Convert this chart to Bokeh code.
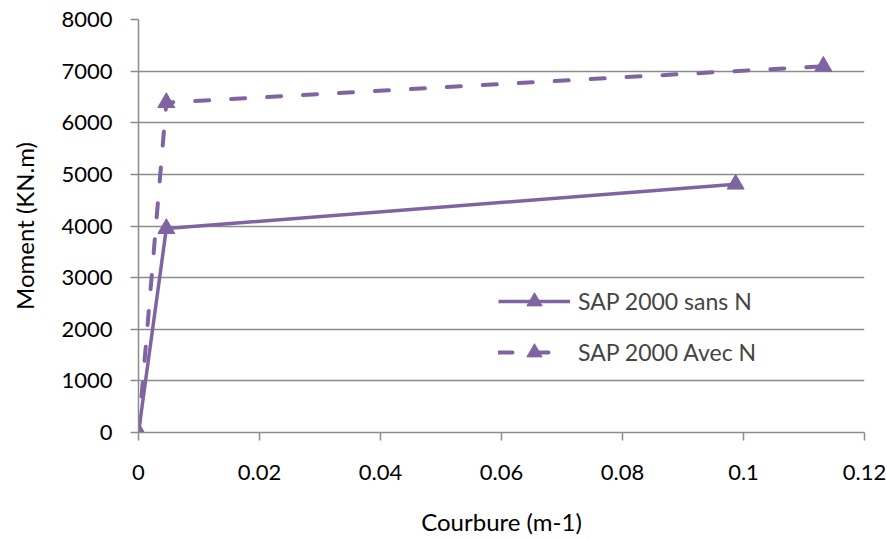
from bokeh.plotting import figure
from bokeh.models import FixedTicker, Legend, LegendItem
from bokeh.embed import file_html
from bokeh.resources import INLINE

curv_sans = [0.0, 0.0046, 0.0987]
mom_sans = [0, 3950, 4810]
curv_avec = [0.0, 0.0046, 0.1132]
mom_avec = [0, 6390, 7095]
x_ticks = [0, 0.02, 0.04, 0.06, 0.08, 0.1, 0.12]
x_labels = {0: "0", 0.02: "0.02", 0.04: "0.04", 0.06: "0.06", 0.08: "0.08", 0.1: "0.1", 0.12: "0.12"}
y_ticks = [0, 1000, 2000, 3000, 4000, 5000, 6000, 7000, 8000]

PURPLE = "#8064A2"
GRID = "#8c8c8c"
FONT = "Lato"

p = figure(width=887, height=539, output_backend="svg", toolbar_location=None,
           x_range=(0, 0.12), y_range=(0, 8000),
           min_border_left=138, min_border_right=23, min_border_top=19, min_border_bottom=107)
p.outline_line_color = None
p.xgrid.grid_line_color = None
p.ygrid.grid_line_color = GRID
p.ygrid.grid_line_width = 1.5

p.xaxis.ticker = FixedTicker(ticks=x_ticks)
p.xaxis.major_label_overrides = x_labels
p.yaxis.ticker = FixedTicker(ticks=y_ticks)
for ax in (p.xaxis, p.yaxis):
    ax.axis_line_color = GRID
    ax.axis_line_width = 1.5
    ax.major_tick_line_color = GRID
    ax.major_tick_line_width = 1.5
    ax.major_tick_in = 0
    ax.major_tick_out = 8
    ax.minor_tick_line_color = None
    ax.major_label_text_font = FONT
    ax.major_label_text_font_size = "22px"
    ax.major_label_text_color = "#000000"
    ax.axis_label_text_font = FONT
    ax.axis_label_text_font_size = "24px"
    ax.axis_label_text_font_style = "normal"
    ax.axis_label_text_color = "#000000"
p.xaxis.axis_label = "Courbure (m-1)"
p.yaxis.axis_label = "Moment (KN.m)"
p.xaxis.major_label_standoff = 24
p.xaxis.axis_label_standoff = 24
p.yaxis.major_label_standoff = 18
p.yaxis.axis_label_standoff = 19

l1 = p.line(curv_sans, mom_sans, line_color=PURPLE, line_width=3.5)
s1 = p.scatter(curv_sans, mom_sans, marker="triangle", size=17, fill_color=PURPLE, line_color=PURPLE)
l2 = p.line(curv_avec, mom_avec, line_color=PURPLE, line_width=4, line_dash="14 22", line_cap="round")
s2 = p.scatter(curv_avec, mom_avec, marker="triangle", size=17, fill_color=PURPLE, line_color=PURPLE)

legend = Legend(items=[LegendItem(label="SAP 2000 sans N", renderers=[l1, s1]),
                       LegendItem(label="SAP 2000 Avec N", renderers=[l2, s2])],
                location=(360, 61), orientation="vertical")
legend.background_fill_alpha = 0
legend.border_line_color = None
legend.label_text_font = FONT
legend.label_text_font_size = "23px"
legend.glyph_width = 72
legend.glyph_height = 38
legend.label_height = 38
legend.label_standoff = 8
legend.spacing = 13
legend.padding = 0
legend.margin = 0
p.add_layout(legend, "center")

open("out.html", "w").write(file_html(p, INLINE))
